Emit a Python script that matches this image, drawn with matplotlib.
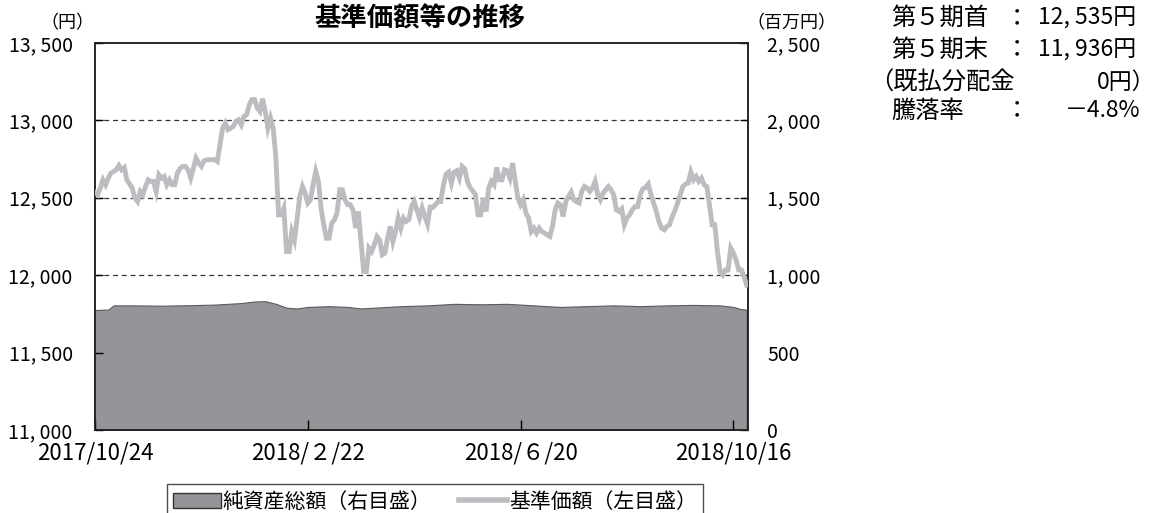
import numpy as np
import matplotlib
matplotlib.use('Agg')
import matplotlib.pyplot as plt
from matplotlib.patches import Patch
from matplotlib.lines import Line2D

plt.rcParams['font.family'] = ['Noto Sans CJK JP', 'DejaVu Sans']

# 基準価額（円）: 営業日ごと
nav = [12535, 12520, 12563, 12616, 12584, 12627, 12660, 12670, 12681, 12709,
       12681, 12696, 12616, 12590, 12563, 12498, 12476, 12541, 12520, 12573,
       12616, 12606, 12606, 12541, 12649, 12627, 12638, 12584, 12616, 12584,
       12584, 12660, 12690, 12703, 12703, 12681, 12627, 12692, 12756, 12724,
       12703, 12739, 12745, 12746, 12746, 12746, 12735, 12843, 12950, 12983,
       12940, 12950, 12961, 12994, 13004, 12972, 13026, 13037, 13101, 13134,
       13134, 13080, 13058, 13140, 13058, 12950, 13015, 12950, 12760, 12390,
       12390, 12433, 12153, 12153, 12282, 12228, 12369, 12509, 12573, 12530,
       12466, 12487, 12584, 12670, 12606, 12433, 12326, 12239, 12239, 12336,
       12358, 12401, 12552, 12552, 12487, 12455, 12455, 12422, 12304, 12412,
       12218, 12024, 12024, 12175, 12153, 12196, 12250, 12228, 12132, 12143,
       12239, 12315, 12218, 12282, 12369, 12304, 12369, 12347, 12358, 12444,
       12476, 12422, 12369, 12433, 12379, 12330, 12440, 12438, 12455, 12476,
       12476, 12584, 12653, 12666, 12595, 12666, 12675, 12627, 12703, 12687,
       12606, 12567, 12545, 12520, 12390, 12390, 12498, 12412, 12563, 12606,
       12584, 12696, 12616, 12616, 12681, 12675, 12627, 12724, 12606, 12498,
       12455, 12487, 12401, 12369, 12282, 12304, 12272, 12304, 12282, 12272,
       12260, 12250, 12315, 12422, 12466, 12455, 12379, 12476, 12509, 12537,
       12487, 12475, 12466, 12541, 12573, 12563, 12541, 12563, 12606, 12520,
       12487, 12530, 12552, 12573, 12552, 12520, 12422, 12412, 12429, 12326,
       12369, 12390, 12422, 12444, 12444, 12520, 12559, 12567, 12589, 12520,
       12466, 12412, 12347, 12304, 12293, 12315, 12326, 12379, 12416, 12466,
       12520, 12573, 12589, 12595, 12666, 12616, 12638, 12606, 12627, 12584,
       12573, 12455, 12326, 12326, 12153, 12024, 12002, 12034, 12034, 12175,
       12143, 12099, 12034, 12034, 11991, 11936]
days = np.arange(len(nav))

# 純資産総額（百万円）
asset_days = [0, 5, 7, 15, 25, 35, 45, 55, 60, 64, 68, 72, 76, 80, 88, 95, 100,
              105, 115, 125, 135, 145, 155, 165, 175, 185, 195, 205, 215, 225,
              235, 240, 243, 245]
asset_vals = [775, 778, 805, 805, 803, 806, 810, 820, 830, 832, 815, 790, 785,
              795, 800, 795, 785, 790, 800, 805, 815, 812, 815, 805, 795, 800,
              805, 800, 805, 808, 805, 795, 780, 778]

tick_days = [0, 80, 160, 240]
tick_labels = ['2017/10/24', '2018/２/22', '2018/６/20', '2018/10/16']
left_ticks = [11000, 11500, 12000, 12500, 13000, 13500]
right_ticks = [0, 500, 1000, 1500, 2000, 2500]

fig = plt.figure(figsize=(11.61, 5.13), dpi=100)
ax = fig.add_axes([0.0818, 0.1618, 0.5625, 0.7544])
ax2 = ax.twinx()
ax.set_zorder(ax2.get_zorder() + 1)
ax.patch.set_visible(False)

# 純資産総額（右目盛）
ax2.fill_between(asset_days, asset_vals, 0, facecolor='#949599',
                 edgecolor='#5a5b5e', linewidth=0.8, zorder=2)
ax2.set_ylim(0, 2500)
ax2.set_yticks(right_ticks)
ax2.set_yticklabels([f'{v:,}'.replace(',', ', ') for v in right_ticks])
for v in right_ticks[1:-1]:
    ax2.axhline(v, color='#333333', lw=0.9, ls=(0, (4, 3)), zorder=1)

# 基準価額（左目盛）
ax.plot(days, nav, color='#bcbdc0', lw=3.5, solid_joinstyle='miter', zorder=3)
ax.set_ylim(11000, 13500)
ax.set_xlim(0, 245.5)
ax.set_yticks(left_ticks)
ax.set_yticklabels([f'{v:,}'.replace(',', ', ') for v in left_ticks])
ax.set_xticks(tick_days)
ax.set_xticklabels(tick_labels)

for a in (ax, ax2):
    for s in a.spines.values():
        s.set_linewidth(1.1)
        s.set_color('#231f20')
ax.tick_params(axis='y', direction='in', length=6, width=1, pad=16,
               labelsize=14, right=False)
ax2.tick_params(axis='y', direction='in', length=6, width=1, pad=14,
                labelsize=14, left=False)
ax.tick_params(axis='x', direction='in', length=7, width=1, pad=8, labelsize=16)

fig.text(0.362, 0.963, '基準価額等の推移', ha='center', va='center',
         fontsize=19, fontweight='bold')
fig.text(0.058, 0.955, '（円）', ha='center', va='center', fontsize=13)
fig.text(0.682, 0.955, '（百万円）', ha='center', va='center', fontsize=13)

# 右上の注記
fs = 17.5
fn = 16.5
rows = [0.965, 0.903, 0.840, 0.784]
fig.text(0.768, rows[0], '第５期首', ha='left', va='center', fontsize=fs)
fig.text(0.876, rows[0], '：', ha='center', va='center', fontsize=fs)
fig.text(0.979, rows[0], '12, 535円', ha='right', va='center', fontsize=fn)
fig.text(0.768, rows[1], '第５期末', ha='left', va='center', fontsize=fs)
fig.text(0.876, rows[1], '：', ha='center', va='center', fontsize=fs)
fig.text(0.979, rows[1], '11, 936円', ha='right', va='center', fontsize=fn)
fig.text(0.749, rows[2], '（既払分配金', ha='left', va='center', fontsize=fs)
fig.text(0.995, rows[2], '0円）', ha='right', va='center', fontsize=fn)
fig.text(0.768, rows[3], '騰落率', ha='left', va='center', fontsize=fs)
fig.text(0.876, rows[3], '：', ha='center', va='center', fontsize=fs)
fig.text(0.982, rows[3], '－4.8%', ha='right', va='center', fontsize=fn)

handles = [Patch(facecolor='#949599', edgecolor='#333333', linewidth=1),
           Line2D([0], [0], color='#bcbdc0', lw=4)]
leg = fig.legend(handles, ['純資産総額（右目盛）', '基準価額（左目盛）'],
                 loc='upper center', bbox_to_anchor=(0.3745, 0.056), ncol=2,
                 fontsize=15, frameon=True, fancybox=False, borderaxespad=0,
                 handlelength=2.3, handletextpad=0.1, columnspacing=1.3,
                 borderpad=0.3)
leg.get_frame().set_edgecolor('#231f20')
leg.get_frame().set_linewidth(1.0)

fig.savefig('out.png', dpi=100)
